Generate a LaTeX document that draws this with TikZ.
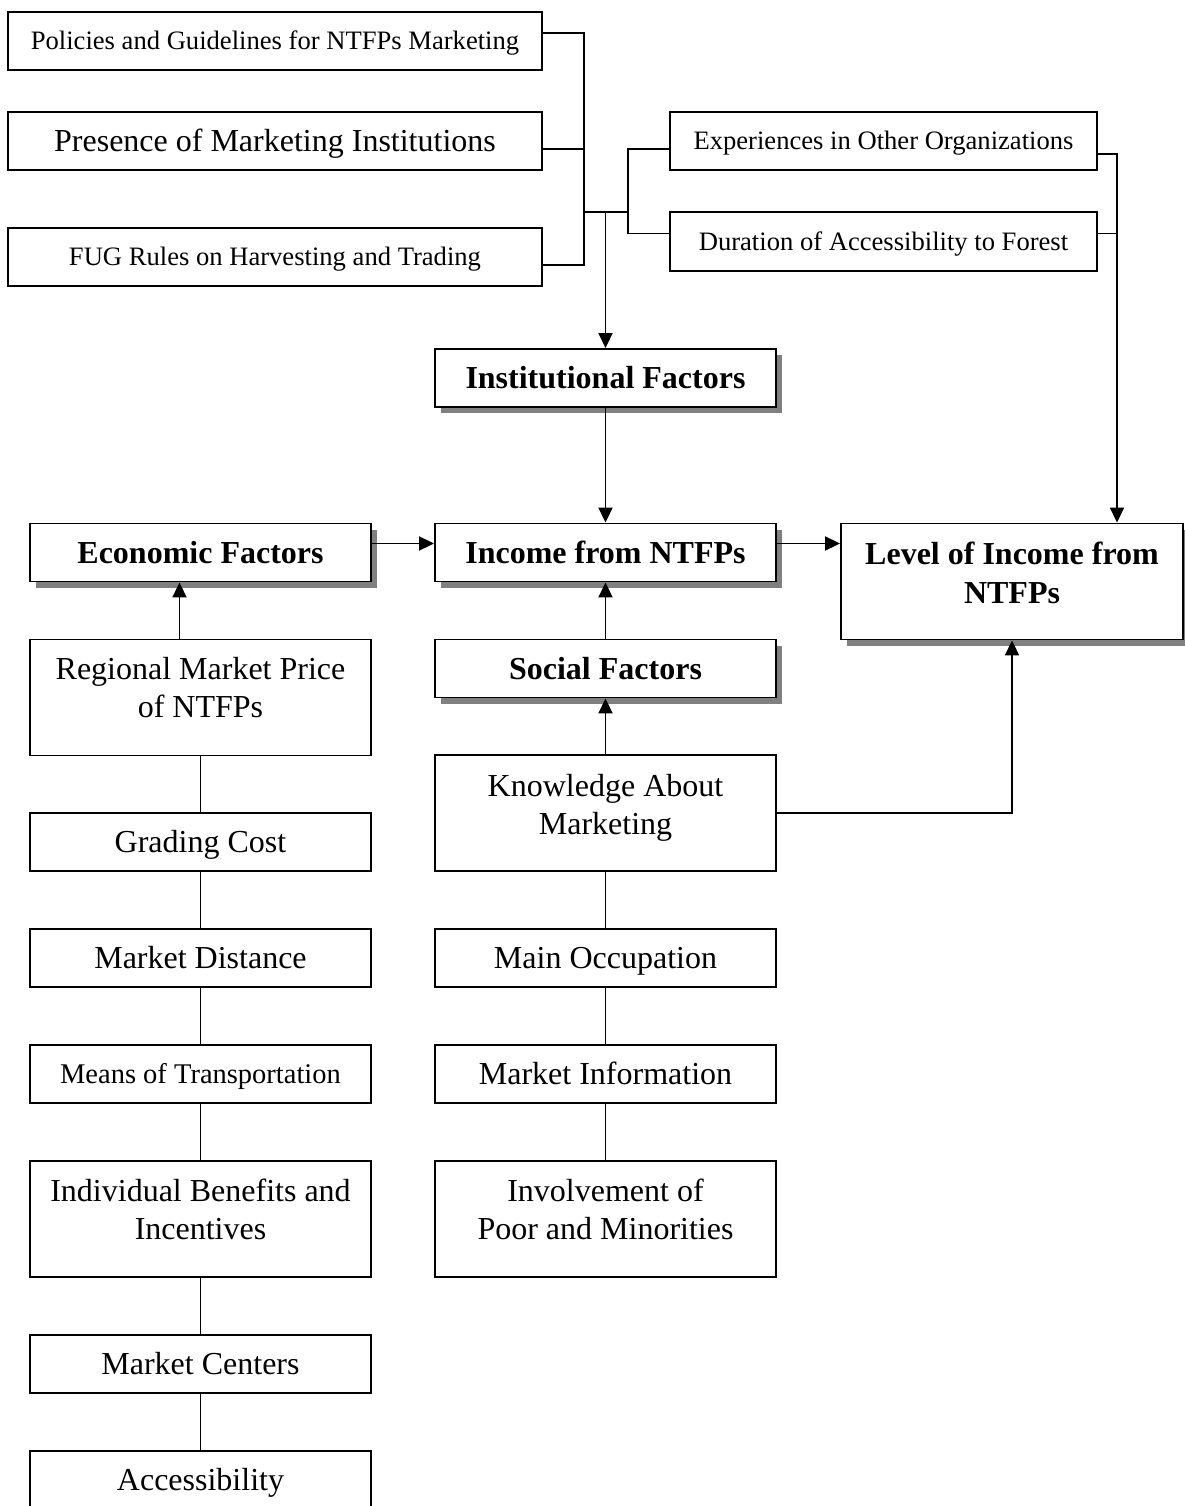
\documentclass[tikz,border=0pt]{standalone}
\usepackage{fontspec}
\setmainfont{Liberation Serif}
\usetikzlibrary{arrows.meta,shadows}
% two-line label centred on the box, lifted by the optional amount
\newcommand\twolines[3][0pt]{\raisebox{#1}[0pt][0pt]{\begin{tabular}{@{}c@{}}#2\\#3\end{tabular}}}
\begin{document}
\begin{tikzpicture}[x=1pt,y=-1pt,
  box/.style={draw, line width=1.9pt, fill=white, inner sep=0pt,
    font=\fontsize{32}{38}\selectfont},
  one/.style={text height=21.2pt, text depth=0pt},
  smalltext/.style={font=\fontsize{26.6}{32}\selectfont, text height=17.6pt},
  wide/.style={box, one, smalltext, minimum width=534pt, minimum height=58pt},
  side/.style={box, one, smalltext, minimum width=427pt, minimum height=58pt},
  col/.style={box, one, minimum width=341pt, minimum height=58pt},
  tall/.style={box, minimum width=341pt, minimum height=116pt},
  shade/.style={drop shadow={shadow xshift=6pt, shadow yshift=-6pt, fill=black!50, opacity=1}},
  bold/.style={font=\fontsize{32}{39}\selectfont\bfseries},
  key/.style={col, bold, shade},
  link/.style={line width=1.9pt},
  arr/.style={link, -{Triangle[length=15pt,width=14pt]}},
]
\useasboundingbox (0,0) rectangle (1185,1506);

% institutional inputs
\node[wide] (pol)  at (275,41)  {Policies and Guidelines for NTFPs Marketing};
\node[wide, font=\fontsize{32}{38}\selectfont, text height=21.2pt] (pres) at (275,141) {Presence of Marketing Institutions};
\node[wide] (fug)  at (275,257) {FUG Rules on Harvesting and Trading};
\node[side] (exp)  at (883.5,141) {Experiences in Other Organizations};
\node[side, minimum height=59pt] (dur) at (883.5,241.5) {Duration of Accessibility to Forest};

% central factors
\node[key] (inst) at (605.5,378)   {Institutional Factors};
\node[key] (eco)  at (200.5,552.5) {Economic Factors};
\node[key] (inc)  at (605.5,552.5) {Income from NTFPs};
\node[key] (soc)  at (605.5,668.5) {Social Factors};
\node[box, bold, shade, minimum width=342pt, minimum height=116pt] (lvl) at (1012,581.5)
  {\twolines[-1pt]{Level of Income from}{NTFPs}};

% economic column
\node[tall] (reg)   at (200.5,697.5) {\twolines{Regional Market Price}{of NTFPs}};
\node[col]  (grad)  at (200.5,842)   {Grading Cost};
\node[col]  (dist)  at (200.5,958)   {Market Distance};
\node[col, font=\fontsize{28.5}{34}\selectfont, text height=18.9pt] (means) at (200.5,1074) {Means of Transportation};
\node[tall] (indiv) at (200.5,1219)  {\twolines{Individual Benefits and}{Incentives}};
\node[col]  (cent)  at (200.5,1364)  {Market Centers};
\node[col]  (acc)   at (200.5,1480)  {Accessibility};

% social column
\node[tall] (know) at (605.5,813)  {\twolines[-1pt]{Knowledge About}{Marketing}};
\node[col]  (occ)  at (605.5,958)  {Main Occupation};
\node[col]  (info) at (605.5,1074) {Market Information};
\node[tall] (inv)  at (605.5,1219) {\twolines{Involvement of}{Poor and Minorities}};

% bus joining the institutional inputs
\coordinate (busL) at (584,212);
\coordinate (busR) at (628,212);
\coordinate (tap)  at (605.5,212);
\coordinate (eBus) at ([xshift=105pt]lvl.north);
\draw[link] ([yshift=8pt]pol.east) -| (busL);
\draw[link] ([yshift=-8pt]pres.east) -- ([yshift=-8pt]pres.east -| busL);
\draw[link] ([yshift=-8pt]fug.east) -| (busL) -- (busR);
\draw[link] ([yshift=-8pt]exp.west) -| (busR);
\draw[link] ([yshift=8pt]dur.west) -| (busR);
\draw[arr] (tap) -- (inst);
\draw[arr] ([yshift=-13pt]exp.east) -| (eBus);
\draw[link] ([yshift=8pt]dur.east) -- ([yshift=8pt]dur.east -| eBus);

% flows into income
\draw[arr] (inst) -- (inc);
\draw[arr] ([yshift=9pt]eco.east) -- ([yshift=9pt]inc.west);
\draw[arr] ([yshift=9pt]inc.east) -- ([yshift=9pt]inc.east -| lvl.west);
\draw[arr] (soc) -- (inc);
\draw[arr] ([xshift=-21pt]reg.north) -- ([xshift=-21pt]eco.south);
\draw[arr] (know) -- (soc);
\draw[arr] (know.east) -| (lvl.south);

% column links
\draw[link] (reg) -- (grad) -- (dist) -- (means) -- (indiv) -- (cent) -- (acc);
\draw[link] (know) -- (occ) -- (info) -- (inv);
\end{tikzpicture}
\end{document}
